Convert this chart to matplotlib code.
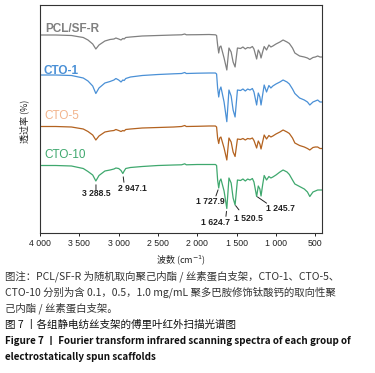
import numpy as np
import matplotlib
matplotlib.use("Agg")
import matplotlib.pyplot as plt

# ---- data (wavenumber, cm^-1) ----
wavenumber = [4000, 3800, 3600, 3450, 3390, 3330, 3290, 3250, 3175, 3110, 3060, 3035, 3000, 2970,
              2947, 2930, 2910, 2850, 2700, 2500, 2300, 2200, 2160, 2140, 2000, 1850, 1770, 1755,
              1742, 1728, 1715, 1700, 1660, 1625, 1598, 1570, 1545, 1520, 1490, 1450, 1420, 1390,
              1360, 1330, 1300, 1280, 1246, 1225, 1205, 1190, 1170, 1150, 1120, 1090, 1065, 1040,
              1000, 950, 910, 860, 830, 790, 760, 700, 640, 600, 570, 530, 500, 470, 440, 415]

# stacked transmittance (arbitrary units, offset per sample)
pcl_sf_r = [198, 198, 197.5, 195.5, 193, 189, 184, 188, 192, 193.5, 194, 195, 194, 193,
            194.5, 194, 195.5, 196, 197, 197.5, 198, 198.2, 199, 198.2, 198.3, 198.5, 198.2, 197.5,
            188, 180, 186, 187, 175, 163, 185, 181, 171, 166, 185, 184.5, 186, 184,
            185.5, 185, 186.5, 184, 174, 183, 180, 175, 181, 186.5, 183, 188, 186, 187,
            189, 191, 193, 191, 189.5, 185, 180, 177, 176, 175, 173.5, 175.5, 176, 177, 176, 176]
cto_1 = [158, 158, 157.5, 155, 152, 147, 139.5, 145, 150, 151.5, 153, 154.5, 153, 151,
         153, 152.5, 154.5, 156, 157.5, 158.5, 159.2, 159.5, 160.5, 159.5, 159.8, 160, 160, 159,
         145, 136, 143, 146, 131, 111.3, 143, 137, 123, 116, 143, 142.5, 144, 142,
         144, 143, 144.5, 141, 128, 140, 136, 128, 138, 148, 141, 147.5, 145, 147,
         149, 151, 153, 151, 149, 144, 139.5, 135, 133, 131, 128, 131, 132, 133, 131, 131]
cto_5 = [106.5, 106.5, 106, 104, 101.5, 98, 93, 97, 101, 102, 102.5, 103.5, 102.5, 101.5,
         102.5, 102, 103.5, 104, 105, 105.5, 106, 106.5, 107.5, 106.5, 106.7, 107, 107, 106,
         95, 89.5, 95, 96, 85, 73, 95, 91, 81, 76.5, 94, 93.5, 94.5, 93,
         94.5, 94, 95, 92.5, 85, 92, 89, 84, 91, 98, 94, 97.5, 96, 97,
         99, 101, 103, 101, 99.5, 95, 90, 87.5, 86, 84.5, 83, 85.5, 86, 86, 84.5, 84.5]
cto_10 = [67.5, 67.5, 67, 64.5, 61.5, 58, 52, 57.5, 62, 63, 64, 65, 64.5, 62.5,
          59.5, 62, 64.5, 65.5, 66.5, 67.5, 68, 68.2, 69.2, 68.2, 68.5, 68.5, 68.5, 67.5,
          53, 45, 52, 54, 42, 24.5, 55, 50, 35, 28, 53, 52.5, 54, 52,
          54, 53, 54.5, 51, 36.5, 47, 44, 37, 48, 57.5, 53, 56.5, 55, 56,
          58, 61, 63, 61, 58.5, 53, 49, 46.5, 44, 41, 36.5, 41, 42, 43, 43, 43]

series_names = ["PCL/SF-R", "CTO-1", "CTO-5", "CTO-10"]
series_colors = ["#808080", "#4a90d6", "#b3621f", "#3fa86e"]
label_colors = ["#808080", "#4a90d6", "#f2b48c", "#3fa86e"]
label_weights = ["bold", "bold", "normal", "normal"]

peak_labels = ["3 288.5", "2 947.1", "1 727.9", "1 624.7", "1 520.5", "1 245.7"]
peak_positions = [3288.5, 2947.1, 1727.9, 1624.7, 1520.5, 1245.7]

xticks = [4000, 3500, 3000, 2500, 2000, 1500, 1000, 500]
xtick_labels = ["4 000", "3 500", "3 000", "2 500", "2 000", "1 500", "1 000", "500"]

# ---- figure ----
W, H = 375, 373
fig = plt.figure(figsize=(W / 100, H / 100), dpi=100)
LAT = "Liberation Sans"
CJK = ["Noto Sans CJK SC", "DejaVu Sans"]

ax = fig.add_axes([40 / W, 1 - 233 / H, 282 / W, 228 / H])
all_series = [pcl_sf_r, cto_1, cto_5, cto_10]
for vals, c in zip(all_series, series_colors):
    ax.plot(wavenumber, vals, color=c, lw=0.9)

ax.set_xlim(4000, 415)
ax.set_ylim(0, 228)
ax.set_yticks([])
ax.set_xticks(xticks)
ax.set_xticklabels(xtick_labels, fontfamily=LAT, fontsize=6.3)
ax.tick_params(axis="x", direction="out", length=2.5, width=0.7, pad=1.5, colors="#222222")
for s in ax.spines.values():
    s.set_linewidth(0.8)
    s.set_color("#333333")

# series labels
label_pos = [(45, 29), (44, 70.5), (44, 116), (44.3, 155)]
for name, col, wt, (px, py) in zip(series_names, label_colors, label_weights, label_pos):
    fig.text(px / W, 1 - py / H, name, color=col, fontsize=8.5, fontweight=wt,
             fontfamily=LAT, ha="left", va="center")

# peak annotations on CTO-10
wn_inc = wavenumber[::-1]
v_inc = cto_10[::-1]
PT = 72 / 100.0  # px -> points
# (line end offset px, gap px, text offset px) ; y offsets downward
ann_geom = [((0, 9), 4, (0, 13)),
            ((1.1, 8.8), 3.4, (10.1, 15.5)),
            ((-2.8, 8), 2, (-8.8, 13.7)),
            ((-0.9, 8.2), 3.2, (-10.9, 14.8)),
            ((3.9, 5), 1, (13.4, 13.3)),
            ((9.9, 6.8), 1, (24.2, 11.8))]
for lab, wn, (lend, gap, toff) in zip(peak_labels, peak_positions, ann_geom):
    yv = float(np.interp(wn, wn_inc, v_inc))
    ax.annotate("", xy=(wn, yv), xytext=(lend[0] * PT, -lend[1] * PT),
                textcoords="offset points",
                arrowprops=dict(arrowstyle="-", color="#222222", lw=0.7,
                                shrinkA=0, shrinkB=gap * PT))
    ax.annotate(lab, xy=(wn, yv), xytext=(toff[0] * PT, -toff[1] * PT),
                textcoords="offset points", ha="center", va="center",
                fontsize=6.2, fontweight="bold", fontfamily=LAT, color="#222222")

# axis labels
fig.text(181 / W, 1 - 260 / H, "波数 (cm$^{-1}$)", fontsize=6.5, family=CJK,
         ha="center", va="center", color="#222222")
fig.text(24 / W, 1 - 121 / H, "透过率 (%)", fontsize=6.5, family=CJK, rotation=90,
         ha="center", va="center", color="#222222")

# caption
cap = [
    (276, "图注：PCL/SF-R 为随机取向聚己内酯 / 丝素蛋白支架，CTO-1、CTO-5、", "normal", 7.5, "#333333"),
    (292.5, "CTO-10 分别为含 0.1，0.5，1.0 mg/mL 聚多巴胺修饰钛酸钙的取向性聚", "normal", 7.5, "#333333"),
    (308.5, "己内酯 / 丝素蛋白支架。", "normal", 7.5, "#333333"),
    (324.5, "图 7 丨各组静电纺丝支架的傅里叶红外扫描光谱图", "normal", 7.6, "#111111"),
    (340.5, "Figure 7 丨 Fourier transform infrared scanning spectra of each group of", "bold", 7.1, "#111111"),
    (357, "electrostatically spun scaffolds", "bold", 7.1, "#111111"),
]
for y, t, wt, fs, c in cap:
    fig.text(5 / W, 1 - y / H, t, fontsize=fs, fontweight=wt, family=CJK,
             ha="left", va="center", color=c)

fig.savefig("out.png", dpi=100)
